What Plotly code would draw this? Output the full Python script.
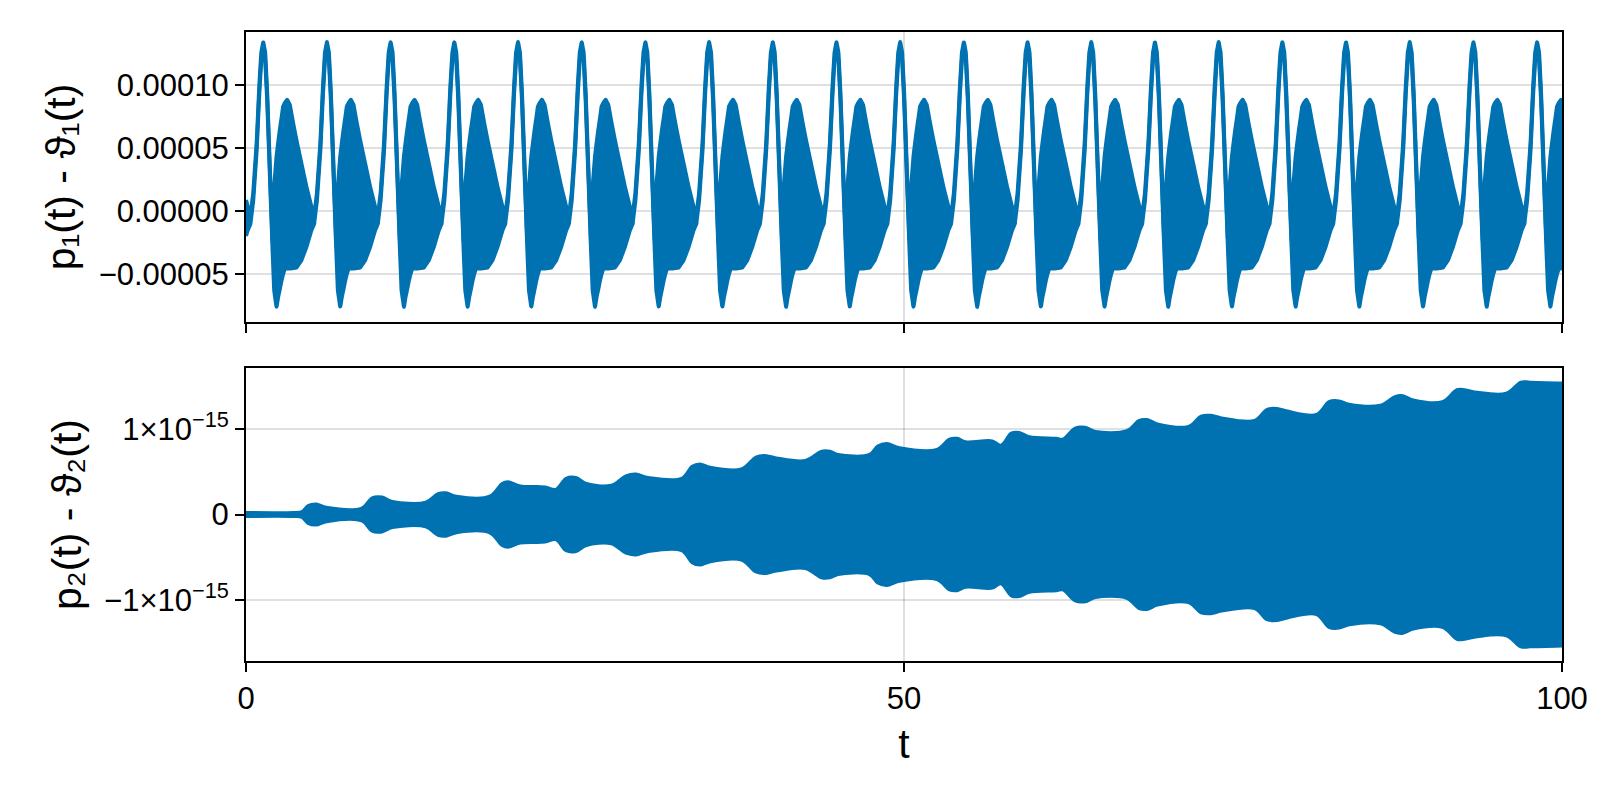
import numpy as np
import plotly.graph_objects as go
from plotly.subplots import make_subplots

BLUE = "rgb(0,114,178)"

# ---- top panel: one period of the envelope (units 1e-5) ----
period = 4.84
first_peak = 1.31
tau = [-0.96, -0.76, -0.50, -0.30, -0.15, 0.0, 0.15, 0.30, 0.50, 0.71,
       0.83, 1.01, 1.13, 1.26, 1.39, 1.51, 1.64, 1.82, 2.02, 2.27, 2.52, 2.90, 3.28, 3.66, 3.88]
upper1 = [-0.29, 1.44, 5.43, 9.95, 12.61, 13.46, 12.61, 9.42, 3.57, -2.55,
          1.94, 4.34, 5.40, 6.46, 7.40, 8.32, 8.60, 8.86, 8.46, 7.00, 5.66, 3.80, 1.94, 0.35, -0.32]
lower1 = [-0.89, 0.84, 4.83, 9.35, 12.01, 12.86, 12.01, 8.82, 2.97, -3.15,
          -6.30, -7.63, -6.84, -6.20, -5.51, -5.00, -4.57, -4.57, -4.57, -4.53, -4.49, -3.91, -2.85, -1.52, -0.98]

# ---- bottom panel: upper envelope (units 1e-15) ----
t2 = [0.0, 3.61, 4.23, 4.70, 5.33, 6.11, 8.78, 9.56, 10.35, 11.13, 13.64, 14.58, 15.21, 15.99,
      18.50, 19.44, 19.91, 20.85, 22.73, 23.52, 24.30, 25.09, 25.87, 27.75, 28.85, 29.63, 30.57,
      33.08, 33.87, 34.49, 35.28, 37.63, 38.73, 39.35, 40.29, 42.49, 43.74, 44.37, 45.00, 47.35,
      47.98, 48.70, 49.66, 52.49, 53.43, 54.05, 54.68, 56.72, 57.35, 58.13, 58.76, 59.54, 61.58,
      62.05, 62.99, 63.78, 64.56, 66.91, 67.85, 68.48, 69.26, 71.61, 72.56, 73.34, 74.13, 76.63,
      77.57, 78.36, 79.14, 81.33, 82.28, 83.06, 83.84, 86.20, 87.29, 87.92, 88.70, 90.90, 92.00,
      92.62, 93.57, 95.76, 96.86, 97.58, 100.0]
env2 = [0.03, 0.03, 0.04, 0.11, 0.13, 0.09, 0.08, 0.20, 0.21, 0.16, 0.15, 0.25, 0.26, 0.22,
        0.22, 0.37, 0.39, 0.34, 0.33, 0.30, 0.43, 0.44, 0.37, 0.35, 0.46, 0.48, 0.44,
        0.43, 0.57, 0.60, 0.56, 0.54, 0.68, 0.70, 0.67, 0.64, 0.75, 0.75, 0.71, 0.71,
        0.81, 0.84, 0.79, 0.77, 0.89, 0.90, 0.86, 0.87, 0.82, 0.96, 0.97, 0.92, 0.90,
        0.89, 1.02, 1.03, 0.98, 0.99, 1.11, 1.12, 1.07, 1.04, 1.16, 1.17, 1.14, 1.11,
        1.24, 1.25, 1.22, 1.18, 1.33, 1.34, 1.30, 1.29, 1.39, 1.40, 1.35, 1.33, 1.47,
        1.47, 1.44, 1.43, 1.56, 1.56, 1.55]

tt, uu, ll = [], [], []
for k in range(-1, 22):
    base = first_peak + k * period
    for a, u, l in zip(tau, upper1, lower1):
        tt.append(base + a); uu.append(u * 1e-5); ll.append(l * 1e-5)
tt = np.array(tt)
grid = np.linspace(0, 100, 6000)
up_g = np.interp(grid, tt, uu)
lo_g = np.interp(grid, tt, ll)

t2a = np.array(t2)
e2 = np.array(env2) * 1e-15

FONT = "Liberation Sans, Arial"
fig = make_subplots(rows=2, cols=1, shared_xaxes=False, vertical_spacing=0.0)
fig.add_trace(go.Scatter(x=grid, y=lo_g, mode="lines", line=dict(color=BLUE, width=4, shape="spline"),
                         showlegend=False, hoverinfo="skip"), row=1, col=1)
fig.add_trace(go.Scatter(x=grid, y=up_g, mode="lines", line=dict(color=BLUE, width=4, shape="spline"),
                         fill="tonexty", fillcolor=BLUE, showlegend=False, hoverinfo="skip"), row=1, col=1)
fig.add_trace(go.Scatter(x=t2a, y=-e2, mode="lines", line=dict(color=BLUE, width=2, shape="spline"),
                         showlegend=False, hoverinfo="skip"), row=2, col=1)
fig.add_trace(go.Scatter(x=t2a, y=e2, mode="lines", line=dict(color=BLUE, width=2, shape="spline"),
                         fill="tonexty", fillcolor=BLUE, showlegend=False, hoverinfo="skip"), row=2, col=1)

W, H = 1592, 784
ml, mr, mt, mb = 238, 32, 24, 131
ph = H - mt - mb
def dom(y0, y1):
    return [(H - mb - y1) / ph, (H - mb - y0) / ph]

axis_common = dict(showline=True, linecolor="black", linewidth=2, mirror=True,
                   ticks="outside", ticklen=9, tickwidth=2, tickcolor="black",
                   showgrid=True, gridcolor="rgba(0,0,0,0.12)", gridwidth=1.5, zeroline=False,
                   tickfont=dict(family=FONT, size=31, color="black"))
tfont = dict(family=FONT, size=41, color="black")
fig.update_layout(
    width=W, height=H, margin=dict(l=ml, r=mr, t=mt, b=mb),
    plot_bgcolor="white", paper_bgcolor="white",
    xaxis=dict(**axis_common, range=[0, 100], tickvals=[0, 50, 100], showticklabels=False,
               domain=[0, 1]),
    xaxis2=dict(**axis_common, range=[0, 100], tickvals=[0, 50, 100], ticktext=["0", "50", "100"],
                title=dict(text="t", font=tfont, standoff=14)),
    yaxis=dict(**axis_common, range=[-8.82e-5, 1.425e-4], domain=dom(24, 314),
               tickvals=[-5e-5, 0, 5e-5, 1e-4],
               ticktext=["−0.00005", "0.00000", "0.00005", "0.00010"],
               title=dict(text="p₁(t) - ϑ₁(t)", font=tfont, standoff=10)),
    yaxis2=dict(**axis_common, range=[-1.72e-15, 1.72e-15], domain=dom(360, 653),
                tickvals=[-1e-15, 0, 1e-15],
                ticktext=["−1×10<sup>−15</sup>", "0", "1×10<sup>−15</sup>"],
                title=dict(text="p₂(t) - ϑ₂(t)", font=tfont, standoff=10)),
)
fig.write_html("out.html")
